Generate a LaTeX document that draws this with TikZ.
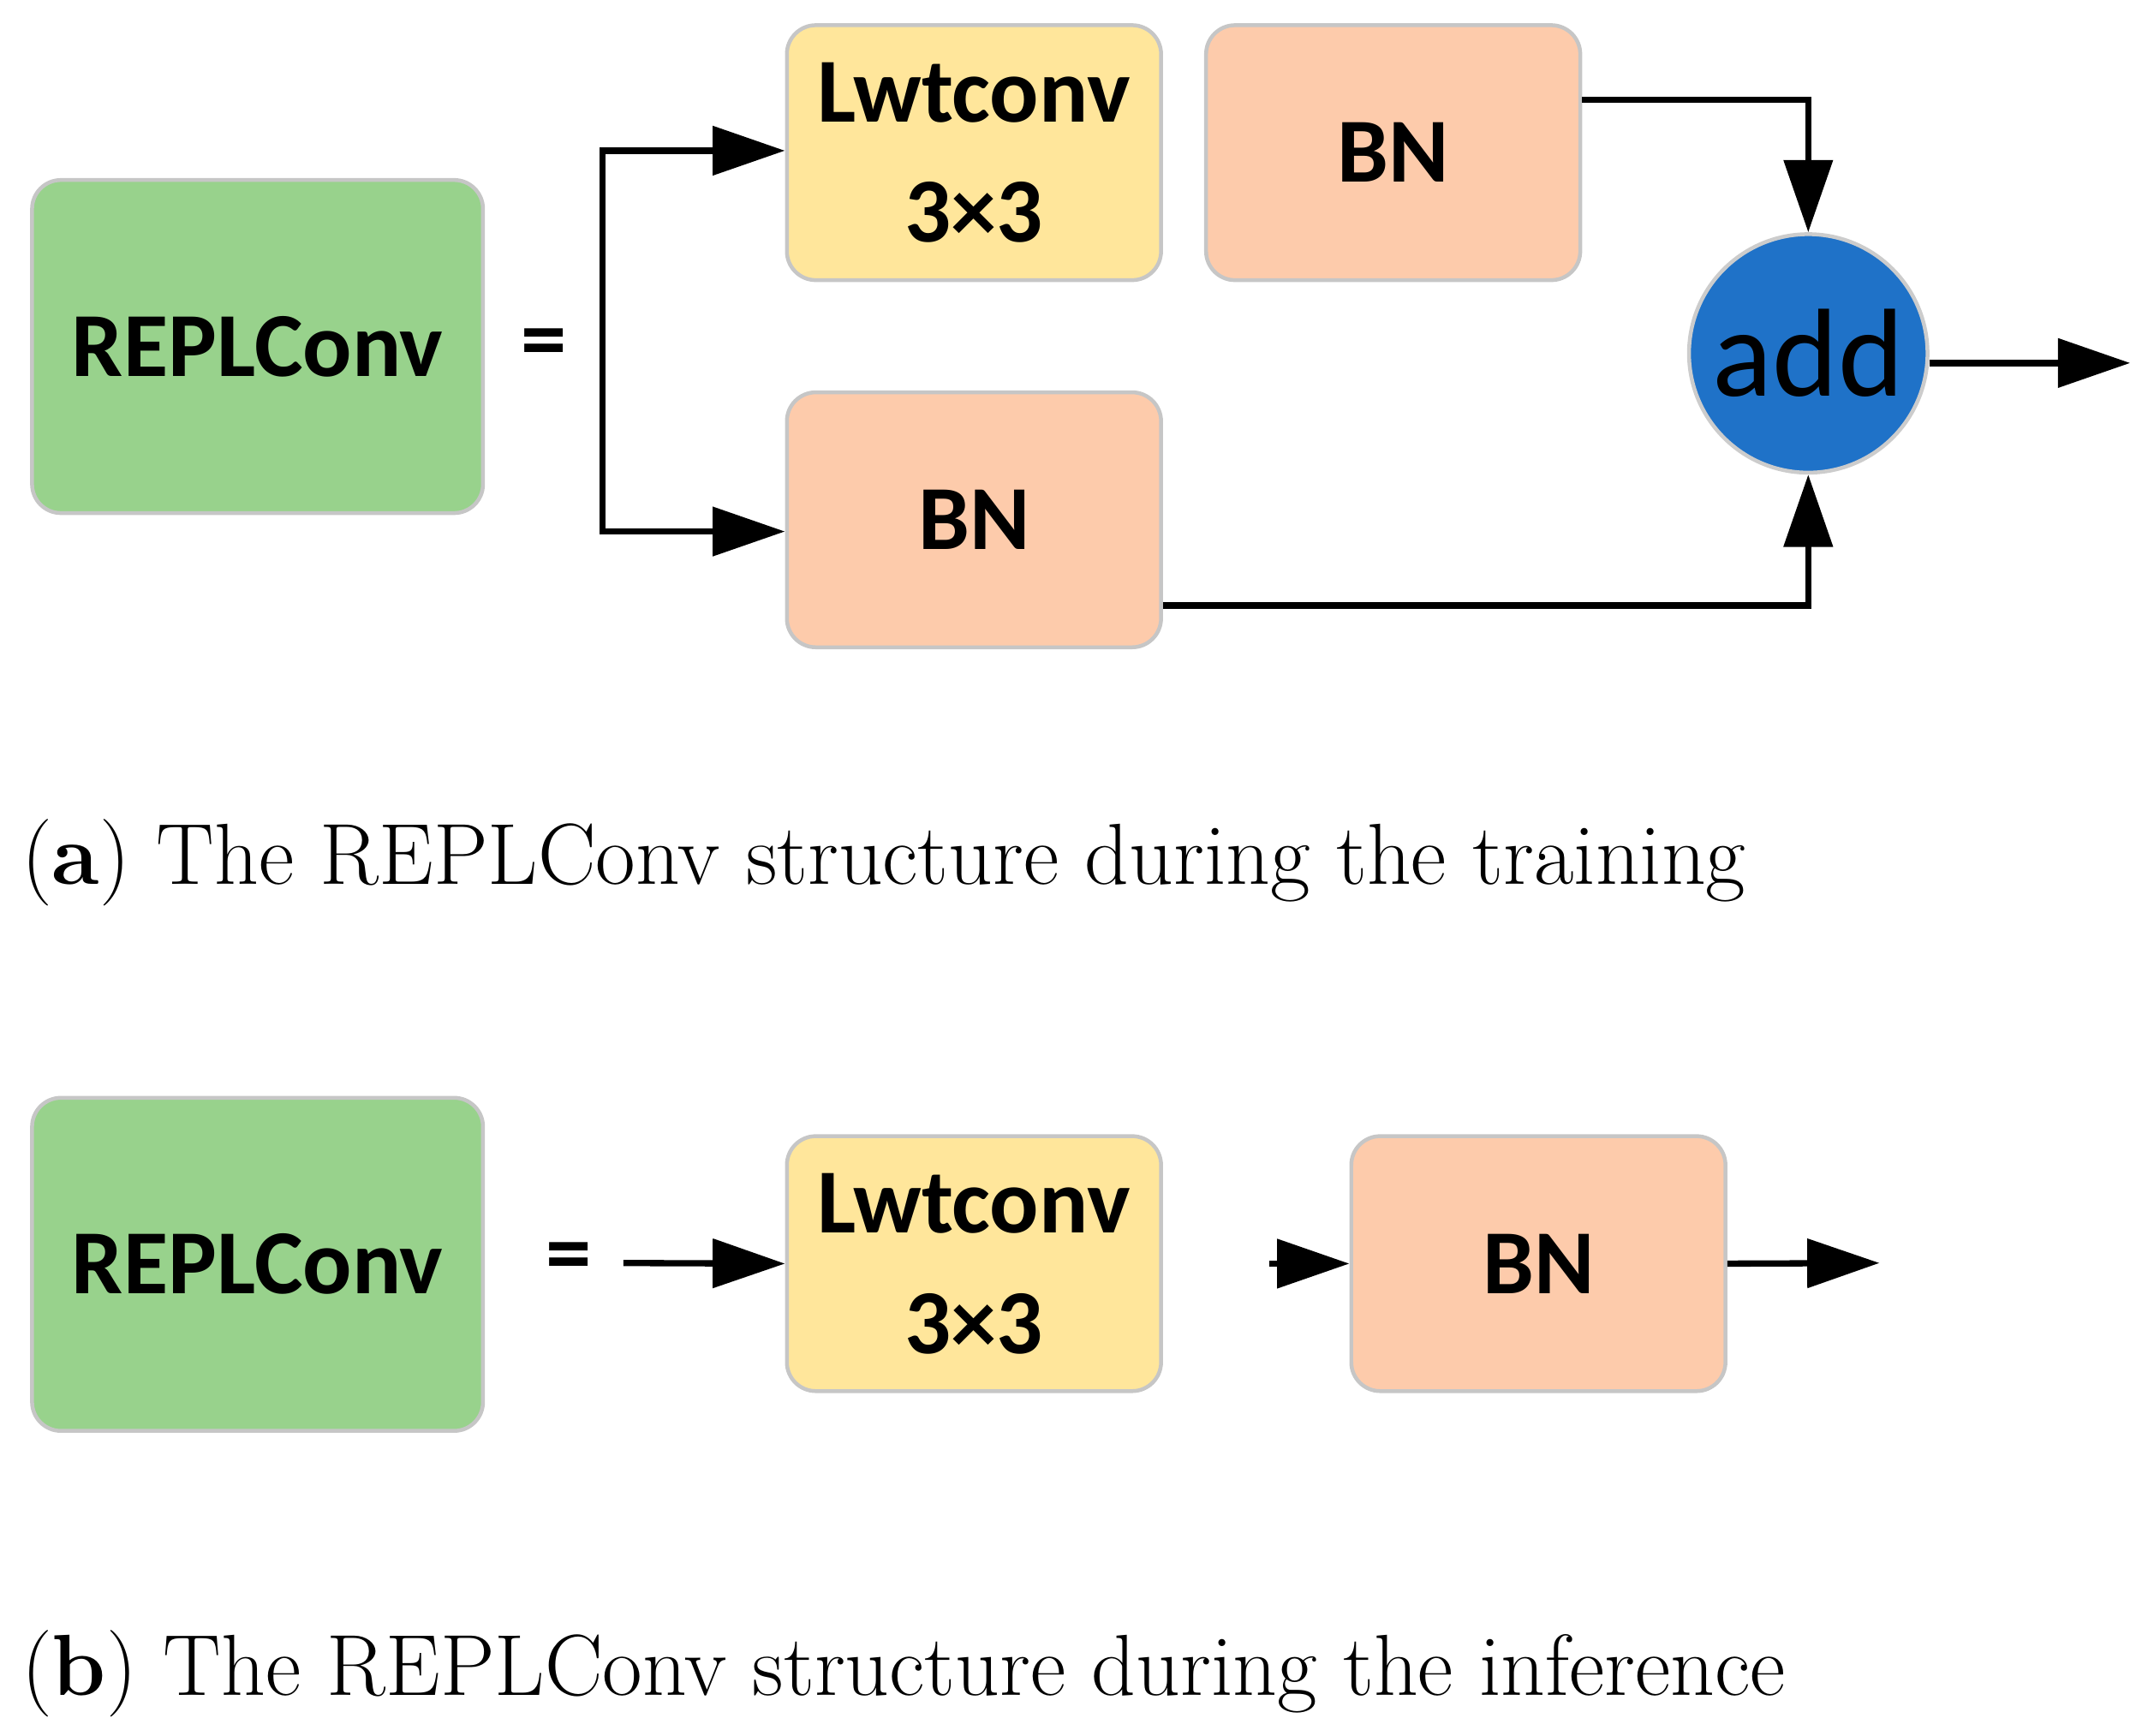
\documentclass[tikz,border=0pt]{standalone}
\usepackage{fontspec}
\newfontfamily\boxfont{Carlito}
\usetikzlibrary{arrows.meta,positioning}
\definecolor{convgreen}{HTML}{98D28C}
\definecolor{convyellow}{HTML}{FFE69B}
\definecolor{bnorange}{HTML}{FDCBAB}
\definecolor{addblue}{HTML}{1F72C8}
\tikzset{
  block/.style={draw=gray!45, line width=0.8pt, rounded corners=6pt, anchor=north west,
    font=\boxfont\bfseries\fontsize{19}{23}\selectfont, align=center, inner sep=0pt},
  flow/.style={line width=1.3pt, -{Triangle[length=15pt, width=10pt]}},
  caption/.style={anchor=west, font=\fontsize{18}{22}\selectfont, inner sep=0pt}
}
\begin{document}
\begin{tikzpicture}[x=0.01cm, y=-0.01cm]
    \useasboundingbox (0,0) rectangle (1568,1267);
    % training
    \node[block, fill=convgreen, minimum width=3.29cm, minimum height=2.43cm] (repA) at (22,130) {REPLConv};
    \node[font=\boxfont\bfseries\fontsize{19}{23}\selectfont] (eqA) at (397,255) {=};
    \node[block, fill=convyellow, minimum width=2.73cm, minimum height=1.86cm] (lwtA) at (573,17) {Lwtconv\\[2pt]3×3};
    \node[block, fill=bnorange, minimum width=2.73cm, minimum height=1.86cm] (bnA) at (879,17) {BN};
    \node[block, fill=bnorange, minimum width=2.73cm, minimum height=1.86cm] (bnB) at (573,285) {BN};
    \node[circle, draw=gray!40, line width=0.8pt, fill=addblue, minimum size=1.74cm, inner sep=0pt,
      font=\boxfont\fontsize{26}{30}\selectfont] (add) at (1320,258) {add};
    \coordinate (split) at (440,250);
    \coordinate (outA) at (1555,265);
    \draw[flow] (split) |- (lwtA.west |- 0,110);
    \draw[flow] (split) |- (bnB.west |- 0,388);
    \draw[flow] (bnA.east |- 0,73) -| (add.north);
    \draw[flow] (bnB.east |- 0,442) -| (add.south);
    \draw[flow] (add.east |- outA) -- (outA);
    \node[caption] (capA) at (15,630) {(\textbf{a}) The REPLConv structure during the training};
    % inference
    \node[block, fill=convgreen, minimum width=3.29cm, minimum height=2.43cm] (repB) at (22,800) {REPLConv};
    \node[font=\boxfont\bfseries\fontsize{19}{23}\selectfont] (eqB) at (415,922) {=};
    \node[block, fill=convyellow, minimum width=2.73cm, minimum height=1.86cm] (lwtB) at (573,828) {Lwtconv\\[2pt]3×3};
    \node[block, fill=bnorange, minimum width=2.73cm, minimum height=1.86cm] (bnC) at (985,828) {BN};
    \coordinate (inB) at (455,922);
    \coordinate (outB) at (1372,922);
    \draw[flow] (inB) -- (lwtB.west);
    \draw[flow] ([xshift=22]lwtB.east) -- (bnC.west);
    \draw[flow] (bnC.east) -- (outB);
    \node[caption] (capB) at (15,1222) {(\textbf{b}) The REPLConv structure during the inference};
\end{tikzpicture}
\end{document}
